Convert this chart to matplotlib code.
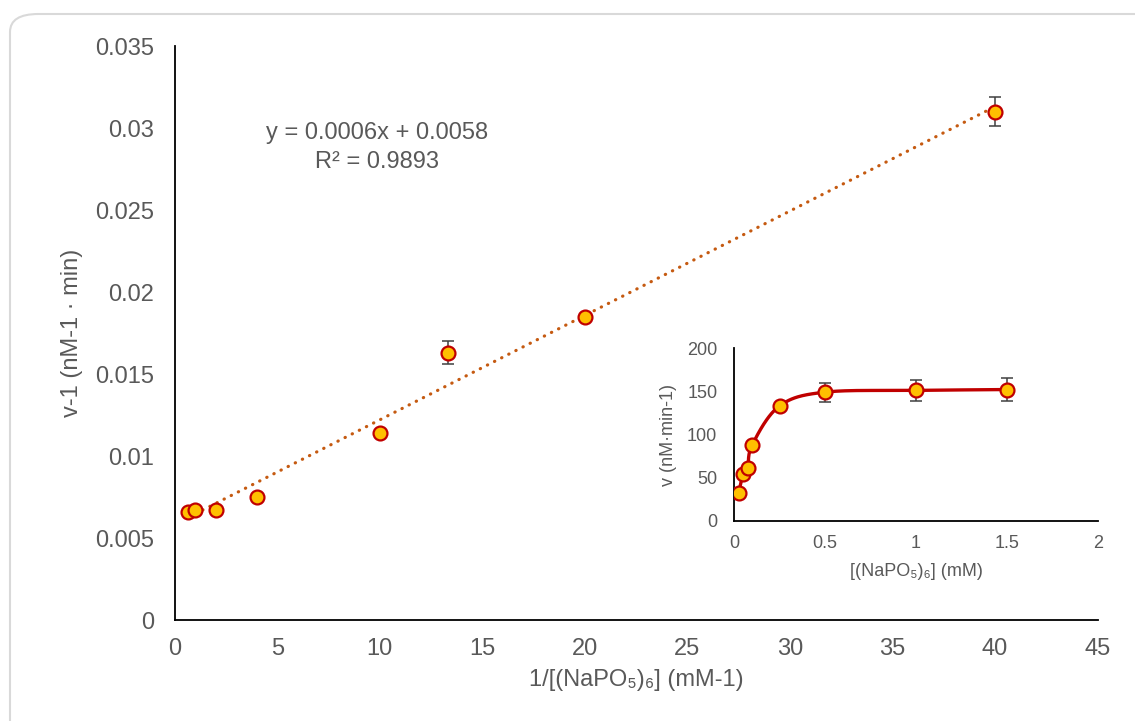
import numpy as np
import matplotlib
matplotlib.use('Agg')
import matplotlib.pyplot as plt
from matplotlib.patches import FancyBboxPatch

plt.rcParams['font.family'] = ['Liberation Sans', 'DejaVu Sans']

# Lineweaver-Burk data (main plot)
inv_conc = [0.667, 1, 2, 4, 10, 13.33, 20, 40]
inv_rate = [0.0066, 0.0067, 0.0067, 0.0075, 0.0114, 0.0163, 0.0185, 0.0310]
inv_rate_err = [0, 0, 0, 0, 0, 0.0007, 0, 0.0009]

# Michaelis-Menten data (inset)
conc = [0.025, 0.05, 0.075, 0.1, 0.25, 0.5, 1.0, 1.5]
rate = [32, 54, 61, 88, 133, 149, 151, 152]
rate_err = [0, 0, 0, 0, 0, 11, 12, 13]

main_xticks = [0, 5, 10, 15, 20, 25, 30, 35, 40, 45]
main_yticks = [0, 0.005, 0.01, 0.015, 0.02, 0.025, 0.03, 0.035]
main_ylabels = ['0', '0.005', '0.01', '0.015', '0.02', '0.025', '0.03', '0.035']
inset_xticks = [0, 0.5, 1, 1.5, 2]
inset_xlabels = ['0', '0.5', '1', '1.5', '2']
inset_yticks = [0, 50, 100, 150, 200]

eq_text = 'y = 0.0006x + 0.0058'
r2_text = 'R² = 0.9893'

txt = '#595959'
orange = '#C55A11'
red = '#C00000'
yellow = '#FFC000'

fig = plt.figure(figsize=(11.35, 7.21), dpi=100)

# rounded chart border
border = FancyBboxPatch((10 / 1135, -20 / 721), 1.02, 1 - 14 / 721 + 20 / 721,
                        boxstyle='round,pad=0,rounding_size=0.025',
                        transform=fig.transFigure, facecolor='none',
                        edgecolor='#D9D9D9', linewidth=1.5, zorder=-1)
fig.patches.append(border)

ax = fig.add_axes([0.154, 0.140, 0.813, 0.796])
ax.patch.set_alpha(0)

# trendline from least squares fit
slope, icpt = np.polyfit(inv_conc, inv_rate, 1)
tx = np.array([min(inv_conc), max(inv_conc)])
ax.plot(tx, slope * tx + icpt, color=orange, lw=2.3,
        linestyle=(0, (0.1, 2.4)), dash_capstyle='round', zorder=2)

ax.errorbar(inv_conc, inv_rate, yerr=inv_rate_err, fmt='none',
            ecolor='#404040', elinewidth=1.1, capsize=4, capthick=1.1, zorder=3)
ax.plot(inv_conc, inv_rate, 'o', ms=10, mfc=yellow, mec=red, mew=1.6,
        ls='none', zorder=4)

ax.set_xlim(0, 45)
ax.set_ylim(0, 0.035)
ax.set_xticks(main_xticks)
ax.set_yticks(main_yticks)
ax.set_yticklabels(main_ylabels)
ax.tick_params(axis='both', length=0, labelsize=17, labelcolor=txt)
ax.tick_params(axis='x', pad=13)
ax.tick_params(axis='y', pad=15)
for s in ['top', 'right']:
    ax.spines[s].set_visible(False)
for s in ['left', 'bottom']:
    ax.spines[s].set_linewidth(1.3)
    ax.spines[s].set_color('black')

ax.set_xlabel('1/[(NaPO₅)₆] (mM-1)', fontsize=17, color=txt)
ax.set_ylabel('v-1 (nM-1 · min)', fontsize=17, color=txt)
ax.xaxis.set_label_coords(0.5, -0.086)
ax.yaxis.set_label_coords(-0.1, 0.5)

ax.text(0.219, 0.848, eq_text, transform=ax.transAxes, ha='center', va='center',
        fontsize=17, color=txt)
ax.text(0.219, 0.798, r2_text, transform=ax.transAxes, ha='center', va='center',
        fontsize=17, color=txt)

# inset
ins = fig.add_axes([0.6467, 0.2774, 0.3207, 0.2399])
ins.patch.set_alpha(0)

# smoothed line (Catmull-Rom through the points)
px = np.array(conc)
py = np.array(rate, dtype=float)
ppx = np.concatenate([[px[0]], px, [px[-1]]])
ppy = np.concatenate([[py[0]], py, [py[-1]]])
t = np.linspace(0, 1, 40)[:, None]
cx, cy = [], []
for i in range(1, len(ppx) - 2):
    for arr, out in ((ppx, cx), (ppy, cy)):
        p0, p1, p2, p3 = arr[i - 1], arr[i], arr[i + 1], arr[i + 2]
        seg = 0.5 * ((2 * p1) + (-p0 + p2) * t + (2 * p0 - 5 * p1 + 4 * p2 - p3) * t ** 2
                     + (-p0 + 3 * p1 - 3 * p2 + p3) * t ** 3)
        out.append(seg.ravel())
ins.plot(np.concatenate(cx), np.concatenate(cy), color=red, lw=2.4, zorder=2)

ins.errorbar(conc, rate, yerr=rate_err, fmt='none', ecolor='#404040',
             elinewidth=1.1, capsize=4, capthick=1.1, zorder=3)
ins.plot(conc, rate, 'o', ms=10, mfc=yellow, mec=red, mew=1.6, ls='none', zorder=4)

ins.set_xlim(0, 2)
ins.set_ylim(0, 200)
ins.set_xticks(inset_xticks)
ins.set_xticklabels(inset_xlabels)
ins.set_yticks(inset_yticks)
ins.tick_params(axis='both', length=0, labelsize=13, labelcolor=txt)
ins.tick_params(axis='x', pad=10)
ins.tick_params(axis='y', pad=12)
for s in ['top', 'right']:
    ins.spines[s].set_visible(False)
for s in ['left', 'bottom']:
    ins.spines[s].set_linewidth(1.3)
    ins.spines[s].set_color('black')
ins.set_xlabel('[(NaPO₅)₆] (mM)', fontsize=13, color=txt)
ins.set_ylabel('v (nM·min-1)', fontsize=13, color=txt)
ins.xaxis.set_label_coords(0.5, -0.24)
ins.yaxis.set_label_coords(-0.157, 0.5)

fig.savefig('out.png', dpi=100)
